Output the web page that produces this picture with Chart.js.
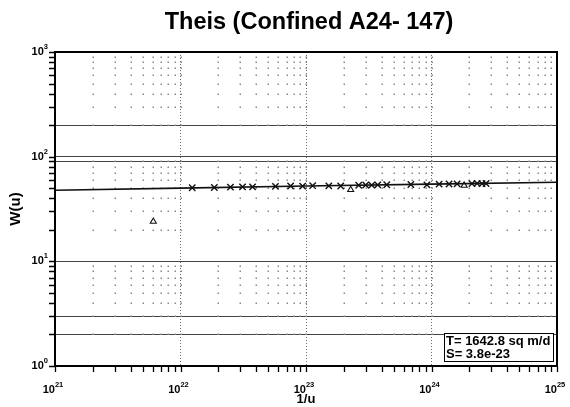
<!DOCTYPE html>
<html>
<head>
<meta charset="utf-8">
<script src="https://cdn.jsdelivr.net/npm/chart.js@4.4.1/dist/chart.umd.min.js"></script>
<style>
  html, body { margin: 0; padding: 0; background: #fff; }
  #wrap { width: 570px; height: 407px; }
</style>
</head>
<body>
<div id="wrap"><canvas id="theis" width="570" height="407"></canvas></div>
<script>
// observed points, 1/u against W(u)
const crossX = [1.24e22, 1.86e22, 2.50e22, 3.12e22, 3.75e22, 5.71e22, 7.54e22, 9.40e22,
  1.13e23, 1.52e23, 1.89e23, 2.63e23, 2.99e23, 3.34e23, 3.73e23, 4.40e23, 6.85e23, 9.19e23,
  1.15e24, 1.38e24, 1.60e24, 2.10e24, 2.31e24, 2.53e24, 2.72e24];
const crossW = [50.5, 50.8, 51.2, 51.5, 51.4, 52.0, 52.5, 52.3,
  52.8, 52.6, 52.4, 53.3, 53.6, 53.5, 53.8, 53.9, 54.2, 53.8,
  54.6, 54.8, 55.0, 55.3, 55.6, 55.2, 55.4];
const triX = [6.07e21, 2.27e23, 1.82e24];
const triW = [24.0, 48.3, 53.1];

// Theis type curve
const curveX = [1e21, 1e22, 1e23, 1e24, 1e25];
const curveW = [47.8, 50.1, 52.4, 54.7, 57.0];

// axes: decade exponents and the heavier horizontal rules
const xDecades = [21, 22, 23, 24, 25];
const yDecades = [0, 1, 2, 3];
const ySolid = [2, 3, 10, 90, 100, 200];
const fitLines = ['T= 1642.8 sq m/d', 'S= 3.8e-23'];

const FONT = '"Liberation Sans", Arial, sans-serif';

function logTicks(decades) {
  const out = [];
  for (let i = 0; i < decades.length - 1; i++) {
    for (let m = 1; m <= 9; m++) out.push(m * Math.pow(10, decades[i]));
  }
  out.push(Math.pow(10, decades[decades.length - 1]));
  return out;
}
const xTicks = logTicks(xDecades);
const yTicks = logTicks(yDecades);

const near = (a, b) => Math.abs(a - b) / b < 1e-6;
const isDecade = v => near(v, Math.pow(10, Math.round(Math.log10(v))));

function pts(xs, ys) { return xs.map((x, i) => ({ x: x, y: ys[i] })); }

function powLabel(ctx, x, y, exp, align) {
  ctx.font = 'bold 11px ' + FONT;
  const bw = ctx.measureText('10').width;
  ctx.font = 'bold 7.5px ' + FONT;
  const ew = ctx.measureText(String(exp)).width;
  const left = align === 'right' ? x - bw - ew : x - (bw + ew) / 2;
  ctx.textAlign = 'left';
  ctx.textBaseline = 'middle';
  ctx.font = 'bold 11px ' + FONT;
  ctx.fillText('10', left, y);
  ctx.font = 'bold 7.5px ' + FONT;
  ctx.fillText(String(exp), left + bw, y - 5);
}

const decor = {
  id: 'decor',
  beforeDatasetsDraw(chart) {
    const { ctx, chartArea: a, scales } = chart;
    // dotted grid of minor intersections
    ctx.save();
    ctx.fillStyle = '#8a8a8a';
    xTicks.forEach(xv => {
      const px = scales.x.getPixelForValue(xv);
      if (px <= a.left + 1 || px >= a.right - 1) return;
      yTicks.forEach(yv => {
        if (isDecade(yv)) return;
        const py = scales.y.getPixelForValue(yv);
        ctx.fillRect(Math.round(px) - 0.5, Math.round(py) - 0.5, 1.5, 1.5);
      });
    });
    ctx.restore();
  },
  afterDraw(chart) {
    const { ctx, chartArea: a, scales } = chart;
    ctx.save();
    // outward tick marks
    ctx.strokeStyle = '#000';
    ctx.lineWidth = 1.3;
    ctx.beginPath();
    xTicks.forEach(v => {
      const px = Math.round(scales.x.getPixelForValue(v)) + 0.5;
      ctx.moveTo(px, a.bottom);
      ctx.lineTo(px, a.bottom + 6);
    });
    yTicks.forEach(v => {
      const py = Math.round(scales.y.getPixelForValue(v)) + 0.5;
      ctx.moveTo(a.left, py);
      ctx.lineTo(a.left - 6, py);
    });
    ctx.stroke();

    // frame
    ctx.lineWidth = 2;
    ctx.strokeRect(a.left, a.top, a.right - a.left, a.bottom - a.top);

    // title
    ctx.fillStyle = '#000';
    ctx.font = 'bold 23.5px ' + FONT;
    ctx.textAlign = 'center';
    ctx.textBaseline = 'middle';
    ctx.fillText('Theis (Confined A24- 147)', (a.left + a.right) / 2 + 3, 23);

    // decade labels
    xDecades.forEach(e => {
      powLabel(ctx, scales.x.getPixelForValue(Math.pow(10, e)) - 2, 390, e, 'center');
    });
    yDecades.forEach(e => {
      powLabel(ctx, 48, scales.y.getPixelForValue(Math.pow(10, e)), e, 'right');
    });

    // fitted parameters box
    const bx = 444, by = 333, bw = 109, bh = 28;
    ctx.fillStyle = '#fff';
    ctx.fillRect(bx, by, bw, bh);
    ctx.lineWidth = 1;
    ctx.strokeStyle = '#000';
    ctx.strokeRect(bx + 0.5, by + 0.5, bw, bh);
    ctx.fillStyle = '#000';
    ctx.font = 'bold 13px ' + FONT;
    ctx.textAlign = 'left';
    ctx.textBaseline = 'middle';
    fitLines.forEach((t, i) => ctx.fillText(t, bx + 2, by + 8 + i * 13));
    ctx.restore();
  }
};

new Chart(document.getElementById('theis'), {
  type: 'scatter',
  data: {
    datasets: [
      {
        type: 'line',
        data: pts(curveX, curveW),
        borderColor: '#111',
        borderWidth: 1.6,
        pointRadius: 0,
        fill: false
      },
      {
        data: pts(crossX, crossW),
        pointStyle: 'crossRot',
        pointRadius: 4.5,
        borderColor: '#111',
        borderWidth: 1.4,
        backgroundColor: '#111'
      },
      {
        data: pts(triX, triW),
        pointStyle: 'triangle',
        pointRadius: 3.5,
        borderColor: '#111',
        borderWidth: 1.1,
        backgroundColor: 'rgba(0,0,0,0)'
      }
    ]
  },
  options: {
    responsive: false,
    animation: false,
    layout: { padding: { top: 52, right: 13, left: 0, bottom: 0 } },
    plugins: {
      legend: { display: false },
      tooltip: { enabled: false }
    },
    scales: {
      x: {
        type: 'logarithmic',
        min: Math.pow(10, xDecades[0]),
        max: Math.pow(10, xDecades[xDecades.length - 1]),
        afterBuildTicks: s => { s.ticks = xTicks.map(v => ({ value: v })); },
        afterFit: s => { s.height = 41; },
        ticks: { display: false },
        grid: {
          color: c => (c.tick && isDecade(c.tick.value)) ? '#6a6a6a' : 'rgba(0,0,0,0)',
          lineWidth: 1,
          drawTicks: false
        },
        border: {
          display: false,
          dash: c => (c.tick ? [1, 2] : [])
        },
        title: {
          display: true,
          text: '1/u',
          color: '#000',
          font: { family: FONT, size: 13, weight: 'bold' },
          padding: { top: 0, bottom: 0 }
        }
      },
      y: {
        type: 'logarithmic',
        min: Math.pow(10, yDecades[0]),
        max: Math.pow(10, yDecades[yDecades.length - 1]),
        afterBuildTicks: s => { s.ticks = yTicks.map(v => ({ value: v })); },
        afterFit: s => { s.width = 55; },
        ticks: { display: false },
        grid: {
          color: c => (c.tick && ySolid.some(v => near(c.tick.value, v))) ? '#444' : 'rgba(0,0,0,0)',
          lineWidth: 1,
          drawTicks: false
        },
        border: { display: false },
        title: {
          display: true,
          text: 'W(u)',
          color: '#000',
          font: { family: FONT, size: 15, weight: 'bold' },
          padding: { top: 7, bottom: 0 }
        }
      }
    }
  },
  plugins: [decor]
});
</script>
</body>
</html>
